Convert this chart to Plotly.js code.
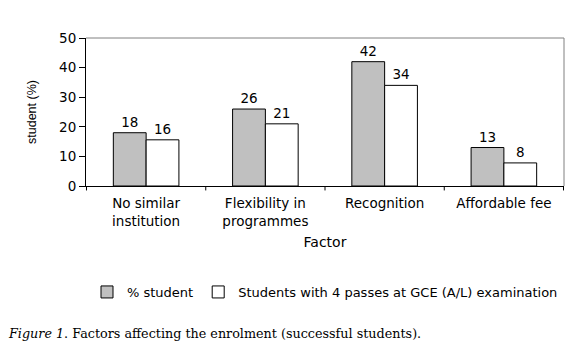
<!DOCTYPE html>
<html><head><meta charset="utf-8">
<script src="https://cdn.plot.ly/plotly-3.0.1.min.js"></script>
<style>body{margin:0;background:#fff}#c{width:584px;height:358px}</style>
</head><body><div id="c"></div>
<script>
const categories = ["No similar<br>institution", "Flexibility in<br>programmes", "Recognition", "Affordable fee"];
const seriesNames = ["% student", "Students with 4 passes at GCE (A/L) examination"];
const pctStudent = [18, 26, 42, 13];
const fourPasses = [15.6, 21, 34, 7.8];
const yTicks = [0, 10, 20, 30, 40, 50];

const F = "DejaVu Sans, Verdana, sans-serif";
const common = {type: "bar", textposition: "outside", cliponaxis: false,
  textfont: {family: F, size: 13.5, color: "#000"}, hoverinfo: "skip"};
const traces = [
  Object.assign({}, common, {x: categories, y: pctStudent, name: seriesNames[0],
    text: pctStudent.map(v => String(Math.round(v))),
    marker: {color: "#c0c0c0", line: {color: "#000", width: 1}}}),
  Object.assign({}, common, {x: categories, y: fourPasses, name: seriesNames[1],
    text: fourPasses.map(v => String(Math.round(v))),
    marker: {color: "#ffffff", line: {color: "#000", width: 1}}})
];
const layout = {
  width: 584, height: 358,
  margin: {l: 86, r: 20, t: 38, b: 172},
  paper_bgcolor: "#fff", plot_bgcolor: "#fff",
  barmode: "group", bargap: 0.45, bargroupgap: 0,
  showlegend: true,
  legend: {orientation: "h", x: 0.5, xanchor: "center", y: -(292-186)/148, yanchor: "middle",
    font: {family: F, size: 13, color: "#000"}, itemwidth: 30, tracegroupgap: 0},
  xaxis: {
    showline: true, linecolor: "#000", linewidth: 1, mirror: false,
    ticks: "", ticklabelstandoff: 5, tickfont: {family: F, size: 13.5, color: "#000"},
    title: {text: "Factor", font: {family: F, size: 14, color: "#000"}, standoff: 9},
    fixedrange: true
  },
  yaxis: {
    range: [0, 50], tickvals: yTicks, ticktext: yTicks.map(String),
    showline: true, linecolor: "#000", linewidth: 1,
    ticks: "outside", ticklen: 6, tickcolor: "#000",
    showgrid: false, zeroline: false,
    tickfont: {family: F, size: 13.5, color: "#000"},
    title: {text: "student (%)", font: {family: "Liberation Sans, Arial, sans-serif", size: 12.5, color: "#000"}, standoff: 19},
    fixedrange: true
  },
  shapes: [
    {type: "line", xref: "paper", yref: "paper", x0: 0, x1: 1, y0: 1, y1: 1, line: {color: "#808080", width: 1}},
    {type: "line", xref: "paper", yref: "paper", x0: 1, x1: 1, y0: 0, y1: 1, line: {color: "#808080", width: 1}}
  ].concat([0, 1, 2, 3, 4].map(i => ({type: "line", xref: "x", yref: "paper",
    x0: i - 0.5, x1: i - 0.5, y0: 0, y1: -0.03, line: {color: "#000", width: 1}}))),
  annotations: [{
    xref: "paper", yref: "paper", x: -80/478, y: -(333-186)/148, xanchor: "left", yanchor: "middle",
    showarrow: false, align: "left",
    text: "<i>Figure 1</i>. Factors affecting the enrolment (successful students).",
    font: {family: "DejaVu Serif, Georgia, serif", size: 12.75, color: "#000"}
  }]
};
Plotly.newPlot("c", traces, layout, {displayModeBar: false, staticPlot: true});
</script></body></html>
